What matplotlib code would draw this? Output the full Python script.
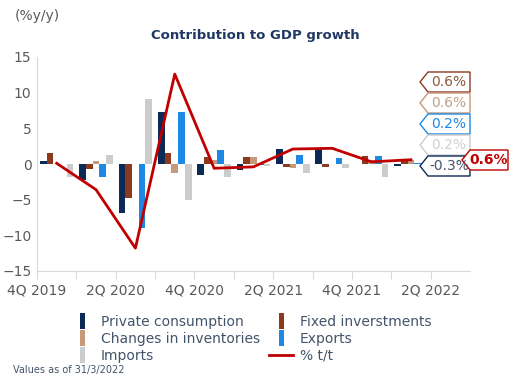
import matplotlib
matplotlib.use("Agg")
import matplotlib.pyplot as plt
import numpy as np
from matplotlib.patches import Polygon
from matplotlib.lines import Line2D

# quarters on the axis (last one has no data yet)
quarters = ["4Q 2019", "1Q 2020", "2Q 2020", "3Q 2020", "4Q 2020", "1Q 2021",
            "2Q 2021", "3Q 2021", "4Q 2021", "1Q 2022", "2Q 2022"]

# contributions, 4Q 2019 .. 1Q 2022
private_cons = [0.4, -2.3, -6.9, 7.3, -1.5, -0.9, 2.1, 2.3, 0.0, -0.3]
fixed_inv = [1.6, -0.7, -4.8, 1.6, 1.0, 1.0, -0.4, -0.4, 1.1, 0.6]
inventories = [0.0, 0.4, 0.0, -1.2, 0.6, 1.0, -0.6, 0.0, 0.5, 0.6]
exports = [0.0, -1.8, -9.0, 7.3, 2.0, -0.2, 1.3, 0.8, 1.1, 0.2]
imports = [-1.8, 1.3, 9.1, -5.0, -1.8, -0.3, -1.2, -0.6, -1.8, 0.2]
gdp_qq = [0.1, -3.6, -11.8, 12.6, -0.6, -0.4, 2.1, 2.2, 0.3, 0.6]

names = ["Private consumption", "Fixed inverstments", "Changes in inventories",
         "Exports", "Imports"]
colors = ["#0B2A55", "#8B3A1E", "#C49A7A", "#1E88E5", "#CCCCCC"]
series = [private_cons, fixed_inv, inventories, exports, imports]

txt_col = "#44546A"
tick_col = "#595959"

plt.rcParams['font.family'] = ['DejaVu Sans']

fig = plt.figure(figsize=(5.25, 3.81), dpi=100)
ax = fig.add_axes([37 / 525, 1 - 271 / 381, (470 - 37) / 525, (271 - 57) / 381])

x = np.arange(len(gdp_qq))
bw = 0.17
for k, (vals, c) in enumerate(zip(series, colors)):
    ax.bar(x + (k - 2) * bw, vals, width=bw, color=c, linewidth=0)

ax.plot(x, gdp_qq, color="#C00000", lw=2)

ax.set_xlim(-0.5, len(quarters) - 0.5)
ax.set_ylim(-15, 15)
ax.set_yticks([-15, -10, -5, 0, 5, 10, 15])
ax.tick_params(axis='y', length=0, labelsize=10, colors=tick_col, pad=4)

bounds = np.arange(len(quarters)) - 0.5
ax.set_xticks(bounds)
ax.set_xticklabels([q if i % 2 == 0 else "" for i, q in enumerate(quarters)])
ax.tick_params(axis='x', length=6, color="#D9D9D9", labelsize=10, labelcolor=tick_col, pad=3)

for s in ["top", "right"]:
    ax.spines[s].set_visible(False)
for s in ["left", "bottom"]:
    ax.spines[s].set_color("#D9D9D9")

fig.text(15 / 525, 1 - 16 / 381, "(%y/y)", fontsize=10, color=tick_col, va="center")
fig.text(255 / 525, 1 - 36 / 381, "Contribution to GDP growth", fontsize=9.5,
         fontweight="bold", color="#1F3864", ha="center", va="center")
fig.text(13 / 525, 1 - 370 / 381, "Values as of 31/3/2022", fontsize=7,
         color=txt_col, va="center")


# value tags on the right side
def tag(xp, yp, text, edge, tcol, w=42, bold=False):
    tip, h = 8, 20
    pts = [(xp, yp), (xp + tip, yp - h / 2), (xp + tip + w, yp - h / 2),
           (xp + tip + w, yp + h / 2), (xp + tip, yp + h / 2)]
    pts = [(a / 525, 1 - b / 381) for a, b in pts]
    fig.patches.append(Polygon(pts, closed=True, fc="white", ec=edge, lw=1,
                               transform=fig.transFigure))
    fig.text((xp + tip + w / 2) / 525, 1 - yp / 381, text, fontsize=10,
             color=tcol, ha="center", va="center",
             fontweight="bold" if bold else "normal")


tag_order = [1, 2, 3, 4, 0]
tag_text_cols = ["#44546A", "#8B5A3C", "#C0A08A", "#1E88E5", "#D0D0D0"]
for j, k in enumerate(tag_order):
    tag(420, 82 + j * 21, "%.1f%%" % series[k][-1], colors[k], tag_text_cols[k])
tag(462, 160, "%.1f%%" % gdp_qq[-1], "#C00000", "#C00000", w=38, bold=True)

# legend (filled column by column)
bar_mark = [(-0.3, -1), (0.3, -1), (0.3, 1), (-0.3, 1)]
handles = [Line2D([], [], ls="none", marker=bar_mark, ms=12, color=c, mew=0)
           for c in colors]
handles.append(Line2D([], [], color="#C00000", lw=2))
labels = names + ["% t/t"]
order = [0, 2, 4, 1, 3, 5]
leg = fig.legend([handles[i] for i in order], [labels[i] for i in order],
                 loc="upper left", bbox_to_anchor=(70 / 525, 1 - 315 / 381),
                 ncol=2, frameon=False, fontsize=10, handlelength=1.7,
                 handletextpad=0.5, labelspacing=0.2, columnspacing=0.7,
                 borderpad=0, borderaxespad=0)
for t in leg.get_texts():
    t.set_color(txt_col)

fig.savefig("out.png", dpi=100)
